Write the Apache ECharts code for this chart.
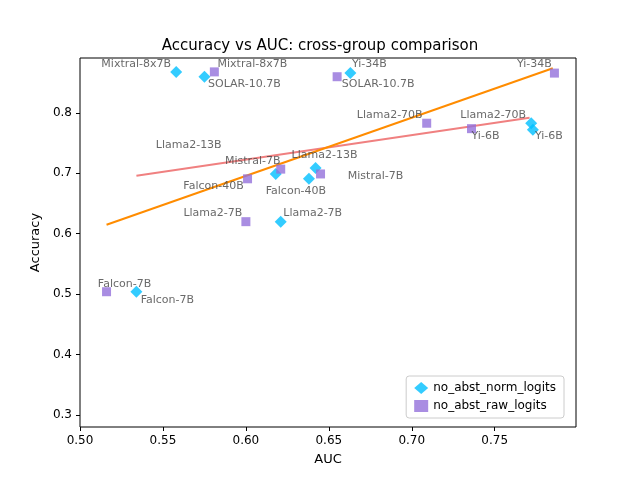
<!DOCTYPE html>
<html>
<head>
<meta charset="utf-8">
<script src="https://cdn.jsdelivr.net/npm/echarts@6/dist/echarts.min.js"></script>
<style>html,body{margin:0;padding:0;background:#fff}#c{width:640px;height:480px}</style>
</head>
<body>
<div id="c"></div>
<script>
// models (same order for both series)
var models = ['Mixtral-8x7B', 'SOLAR-10.7B', 'Yi-34B', 'Llama2-70B', 'Yi-6B',
              'Llama2-13B', 'Mistral-7B', 'Falcon-40B', 'Llama2-7B', 'Falcon-7B'];
var normAuc = [0.558, 0.575, 0.663, 0.772, 0.773, 0.642, 0.618, 0.638, 0.621, 0.534];
var normAcc = [0.868, 0.860, 0.866, 0.783, 0.772, 0.709, 0.699, 0.691, 0.620, 0.504];
var rawAuc  = [0.581, 0.655, 0.786, 0.709, 0.736, 0.621, 0.645, 0.601, 0.600, 0.516];
var rawAcc  = [0.868, 0.860, 0.866, 0.783, 0.774, 0.707, 0.699, 0.691, 0.620, 0.504];
// fitted trend lines (end points)
var normFitX = [0.534, 0.771], normFitY = [0.696, 0.792];
var rawFitX  = [0.516, 0.785], rawFitY  = [0.615, 0.874];
var xTicks = [0.50, 0.55, 0.60, 0.65, 0.70, 0.75];
var yTicks = [0.3, 0.4, 0.5, 0.6, 0.7, 0.8];

// label offsets in px (layout only)
var normOff = [[-40,-8],[40,7],[19,-9],[-38,-8],[16,6],[9,-13],[-23,-13],[-13,12],[32,-9],[31,8]];
var rawOff  = [[38,-8],[41,7],[-20,-9],[-37,-8],[14,7],[-92,-24],[55,2],[-34,7],[-33,-9],[18,-8]];

function pts(xs, ys, offs) {
    return models.map(function (m, i) {
        return {name: m, value: [xs[i], ys[i]],
                label: {show: true, position: 'inside', offset: offs[i], formatter: m}};
    });
}
function line(xs, ys) { return xs.map(function (x, i) { return [x, ys[i]]; }); }

var font = 'DejaVu Sans';
var chart = echarts.init(document.getElementById('c'));
chart.setOption({
    animation: false,
    textStyle: {fontFamily: font},
    title: {text: 'Accuracy vs AUC: cross-group comparison', left: 'center', top: 34,
            textStyle: {fontFamily: font, fontSize: 15, fontWeight: 'normal', color: '#000'}},
    grid: {left: 80, right: 64, top: 58, bottom: 53, show: true, borderColor: '#000', borderWidth: 1},
    xAxis: {type: 'value', min: 0.5, max: 0.799, name: 'AUC', nameLocation: 'middle', nameGap: 26,
            nameTextStyle: {fontSize: 13, color: '#000'},
            axisLine: {show: false}, splitLine: {show: false},
            axisTick: {show: true, length: 4, lineStyle: {color: '#000'}, customValues: xTicks},
            axisLabel: {color: '#000', fontSize: 12, customValues: xTicks,
                        formatter: function (v) { return v.toFixed(2); }}},
    yAxis: {type: 'value', min: 0.28, max: 0.891, name: 'Accuracy', nameLocation: 'middle', nameGap: 38,
            nameTextStyle: {fontSize: 13, color: '#000'},
            axisLine: {show: false}, splitLine: {show: false},
            axisTick: {show: true, length: 4, lineStyle: {color: '#000'}, customValues: yTicks},
            axisLabel: {color: '#000', fontSize: 12, customValues: yTicks,
                        formatter: function (v) { return v.toFixed(1); }}},
    legend: {right: 76, bottom: 62, orient: 'vertical', itemGap: 6, itemWidth: 14, itemHeight: 12,
             padding: [6, 8], borderColor: '#ccc', borderWidth: 1, borderRadius: 3,
             backgroundColor: '#fff', textStyle: {fontSize: 12, color: '#000'},
             data: [{name: 'no_abst_norm_logits', icon: 'diamond'},
                    {name: 'no_abst_raw_logits', icon: 'rect'}]},
    series: [
        {type: 'line', data: line(normFitX, normFitY), symbol: 'none', silent: true,
         lineStyle: {color: '#f08080', width: 2}, z: 1},
        {type: 'line', data: line(rawFitX, rawFitY), symbol: 'none', silent: true,
         lineStyle: {color: '#ff8c00', width: 2}, z: 1},
        {name: 'no_abst_norm_logits', type: 'scatter', symbol: 'diamond', symbolSize: 12,
         itemStyle: {color: '#00bfff'}, data: pts(normAuc, normAcc, normOff),
         label: {fontSize: 11, color: '#444'}, z: 3},
        {name: 'no_abst_raw_logits', type: 'scatter', symbol: 'rect', symbolSize: 9,
         itemStyle: {color: '#9370db'}, data: pts(rawAuc, rawAcc, rawOff),
         label: {fontSize: 11, color: '#444'}, z: 3}
    ]
});
</script>
</body>
</html>
